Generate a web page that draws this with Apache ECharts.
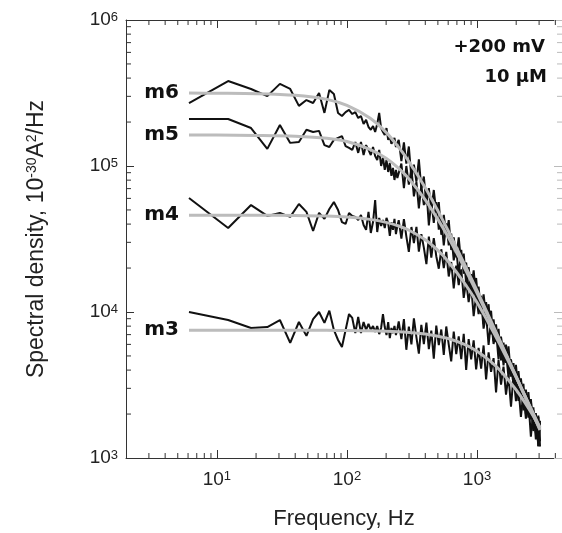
<!DOCTYPE html>
<html>
<head>
<meta charset="utf-8">
<title>Spectral density m3-m6</title>
<script src="https://cdn.jsdelivr.net/npm/echarts@6/dist/echarts.min.js"></script>
<style>
    body { margin: 0; background: #fff; }
    #main { width: 562px; height: 533px; }
</style>
</head>
<body>
<div id="main"></div>
<script type="text/javascript">
// measured spectra, Hz
var freq = [6.1, 12.2, 18.3, 24.4, 30.5, 36.6, 42.7, 48.8, 54.9, 61, 67.1, 73.2, 79.3, 85.4, 91.5, 97.6, 103.7, 109.8, 115.9, 122,
    128.1, 134.2, 140.3, 146.4, 152.5, 158.6, 164.7, 170.8, 176.9, 183, 189.1, 195.2, 201.3, 207.4, 213.5, 219.6, 225.7, 231.8, 237.9, 244,
    250, 262, 274, 286, 299, 313, 327, 342, 357, 373, 390, 408, 426, 445, 465, 486, 508, 531, 555, 580,
    606, 633, 662, 692, 723, 756, 790, 825, 862, 901, 942, 984, 1028, 1075, 1123, 1174, 1227, 1282, 1340, 1400,
    1463, 1529, 1598, 1670, 1745, 1824, 1906, 1992, 2081, 2175, 2273, 2375, 2482, 2594, 2711, 2833, 2960, 3050];

var m6 = [270000, 382000, 337000, 301000, 365000, 337000, 258000, 283000, 270000, 316000, 231000, 332000, 311000, 231000, 220000, 234000, 242000, 227000, 234000, 213000,
    220000, 194000, 207000, 185000, 177000, 188000, 171000, 194000, 231000, 182000, 171000, 163000, 182000, 151000, 160000, 142000, 148000, 156000, 135000, 144000,
    151000, 108000, 145000, 104000, 136000, 82400, 102000, 78000, 111000, 70300, 84700, 54600, 70500, 49800, 68500, 48300, 56500, 33800, 46300, 33300,
    42600, 26600, 32400, 23700, 32400, 21100, 25100, 15600, 20300, 14200, 19300, 12600, 14900, 9660, 13200, 9350, 11300, 7030, 8910, 6210,
    7670, 4660, 6170, 4490, 5820, 3610, 4460, 2890, 3930, 2730, 3220, 2000, 2830, 1840, 2220, 1340, 1910, 1300];

var m5 = [210000, 210000, 182000, 131000, 191000, 144000, 146000, 177000, 171000, 174000, 139000, 135000, 151000, 156000, 160000, 137000, 133000, 129000, 146000, 123000,
    146000, 119000, 139000, 129000, 119000, 135000, 117000, 110000, 129000, 100000, 114000, 94000, 110000, 91000, 105000, 85500, 96900, 80200, 94000, 82800,
    83800, 104000, 70600, 100000, 74500, 95900, 61900, 77600, 51200, 73500, 54000, 68700, 39200, 57100, 40700, 56600, 36700, 43300, 28600, 40400,
    28600, 34400, 22600, 27600, 17700, 26700, 18300, 21800, 14000, 18200, 12800, 17100, 11100, 12900, 8240, 11700, 8180, 10200, 6320, 8220,
    5470, 6780, 4310, 5980, 4070, 4710, 3130, 4350, 2820, 3410, 2120, 2940, 2090, 2530, 1570, 1980, 1200, 1750];

var m4 = [60400, 37600, 54000, 45500, 47700, 44800, 54900, 48500, 35900, 47700, 43400, 50700, 56600, 50000, 41300, 40100, 47700, 45500, 44800, 42700,
    46100, 39400, 36500, 48500, 34800, 41300, 58500, 35300, 44100, 38800, 42700, 37600, 44100, 40700, 33200, 41300, 36500, 43400, 34200, 38800,
    42600, 31800, 43300, 33000, 25800, 38200, 29700, 38300, 25900, 34100, 27600, 21300, 32800, 23600, 32100, 24100, 19800, 26900, 20000, 25800,
    17500, 22000, 14500, 20800, 15300, 19600, 12500, 16300, 11700, 15100, 9380, 13000, 9680, 12200, 7690, 9680, 5960, 8770, 6040, 7400,
    4740, 6650, 4560, 5310, 3560, 4740, 3170, 3940, 2460, 3510, 2340, 2770, 1890, 2460, 1530, 2030, 1210, 1800];

var m3 = [10000, 8810, 7770, 7890, 8810, 6140, 8540, 6860, 8950, 10000, 8420, 10200, 7530, 6430, 5760, 7530, 9680, 9100, 7170, 9250,
    7170, 8540, 7530, 8280, 7530, 8020, 7300, 8020, 7060, 7770, 9680, 7890, 6950, 8540, 6630, 7770, 7170, 8020, 6950, 7660,
    8610, 6520, 8950, 5510, 7940, 6010, 9060, 6700, 5180, 8170, 6030, 8470, 5560, 7460, 4790, 8070, 5930, 7590, 5080, 7960,
    5980, 4590, 7350, 5140, 6820, 4760, 7080, 4010, 6520, 4730, 6400, 4040, 5690, 4100, 5900, 3450, 5300, 3890, 4830, 2810,
    4690, 3180, 4220, 2720, 3670, 2250, 3640, 2450, 3050, 1910, 2850, 1860, 2470, 1400, 2120, 1480, 1950, 1200];

// fitted curves (grey)
var fitFreq = [6.1, 10, 20, 40, 70, 100, 150, 200, 250, 300, 400, 500, 600, 800, 1000, 1250, 1500, 2000, 2500, 3050];
var fit6 = [316000, 315000, 313000, 305000, 286000, 260000, 213000, 170000, 134000, 107000, 70900, 49300, 36000, 21300, 14000, 9090, 6370, 3610, 2320, 1560];
var fit5 = [163000, 163000, 162000, 160000, 155000, 147000, 130000, 113000, 96200, 81500, 58700, 43100, 32600, 20100, 13500, 8870, 6270, 3590, 2310, 1560];
var fit4 = [46000, 46000, 46000, 45800, 45400, 44700, 43100, 41100, 38800, 36300, 31200, 26400, 22200, 15800, 11600, 8150, 5980, 3570, 2350, 1610];
var fit3 = [7500, 7500, 7500, 7500, 7490, 7470, 7430, 7380, 7320, 7250, 7060, 6830, 6580, 6000, 5390, 4640, 3990, 2930, 2180, 1620];

var names = ['m6', 'm5', 'm4', 'm3'];

// minor tick values
var xMinor = [3, 4, 5, 6, 7, 8, 9, 20, 30, 40, 50, 60, 70, 80, 90, 200, 300, 400, 500, 600, 700, 800, 900, 2000, 3000, 4000];
var yMinor = [2000, 3000, 4000, 5000, 6000, 7000, 8000, 9000, 20000, 30000, 40000, 50000, 60000, 70000, 80000, 90000,
    200000, 300000, 400000, 500000, 600000, 700000, 800000, 900000];

var xMin = 2, xMax = 4500, yMin = 1000, yMax = 1000000;

function zip(xs, ys) {
    var out = [];
    for (var i = 0; i < xs.length; i++) out.push([xs[i], ys[i]]);
    return out;
}

function powLabel(v) {
    var e = Math.log10(v);
    if (Math.abs(e - Math.round(e)) > 1e-6) return '';
    return '{b|10}{s|' + Math.round(e) + '}';
}

var tickRich = {
    b: { fontSize: 19, fontFamily: 'Liberation Sans', color: '#222', verticalAlign: 'middle' },
    s: { fontSize: 13, fontFamily: 'Liberation Sans', color: '#222', verticalAlign: 'top' }
};

var myChart = echarts.init(document.getElementById('main'));

var dataSeries = [m6, m5, m4, m3].map(function (vals, i) {
    return {
        name: names[i] + ' data',
        type: 'line',
        data: zip(freq, vals),
        showSymbol: false,
        lineStyle: { color: '#111', width: 2 },
        z: 3
    };
});

var fitSeries = [fit6, fit5, fit4, fit3].map(function (vals, i) {
    return {
        name: names[i],
        type: 'line',
        data: zip(fitFreq, vals),
        smooth: 0.3,
        symbol: 'circle',
        symbolSize: 0,
        showSymbol: true,
        lineStyle: { color: '#bcbcbc', width: 3 },
        label: {
            show: true,
            position: 'left',
            distance: 10,
            formatter: function (p) { return p.dataIndex === 0 ? names[i] : ''; },
            fontFamily: 'DejaVu Sans',
            fontWeight: 'bold',
            fontSize: 20,
            color: '#111'
        },
        z: 4
    };
});

var tickSeries = [
    {
        type: 'custom',
        silent: true,
        clip: false,
        data: xMinor.map(function (v) { return [v, yMin]; }),
        renderItem: function (params, api) {
            var b = api.coord([api.value(0), yMin]);
            var t = api.coord([api.value(0), yMax]);
            return { type: 'group', children: [
                { type: 'line', shape: { x1: b[0], y1: b[1], x2: b[0], y2: b[1] - 5 }, style: { stroke: '#333', lineWidth: 1 } },
                { type: 'line', shape: { x1: t[0], y1: t[1], x2: t[0], y2: t[1] + 5 }, style: { stroke: '#333', lineWidth: 1 } }
            ]};
        },
        z: 2
    },
    {
        type: 'custom',
        silent: true,
        clip: false,
        data: yMinor.map(function (v) { return [xMin, v]; }),
        renderItem: function (params, api) {
            var l = api.coord([xMin, api.value(1)]);
            var r = api.coord([xMax, api.value(1)]);
            return { type: 'group', children: [
                { type: 'line', shape: { x1: l[0], y1: l[1], x2: l[0] + 5, y2: l[1] }, style: { stroke: '#333', lineWidth: 1 } },
                { type: 'line', shape: { x1: r[0], y1: r[1], x2: r[0] - 5, y2: r[1] }, style: { stroke: '#bbb', lineWidth: 1 } }
            ]};
        },
        z: 2
    }
];

var option = {
    animation: false,
    backgroundColor: '#fff',
    grid: { left: 126, right: 0, top: 20, bottom: 75, containLabel: false, outerBoundsMode: 'none' },
    xAxis: [
        {
            type: 'log', logBase: 10, min: xMin, max: xMax,
            name: 'Frequency, Hz',
            nameLocation: 'middle',
            nameGap: 50,
            nameTextStyle: { fontFamily: 'Liberation Sans', fontSize: 22, color: '#222' },
            axisLine: { lineStyle: { color: '#333', width: 1 } },
            axisTick: { inside: true, length: 8, lineStyle: { color: '#333' } },
            axisLabel: { margin: 12, formatter: powLabel, rich: tickRich },
            splitLine: { show: false }
        },
        {
            type: 'log', logBase: 10, min: xMin, max: xMax, position: 'top',
            axisLine: { lineStyle: { color: '#333', width: 1 } },
            axisTick: { inside: true, length: 8, lineStyle: { color: '#333' } },
            axisLabel: { show: false },
            splitLine: { show: false }
        }
    ],
    yAxis: [
        {
            type: 'log', logBase: 10, min: yMin, max: yMax,
            name: '{t|Spectral density, 10}{s|-30}{t|A}{s|2}{t|/Hz}',
            nameLocation: 'middle',
            nameRotate: 90,
            nameGap: 78,
            nameTextStyle: {
                rich: {
                    t: { fontFamily: 'Liberation Sans', fontSize: 23, color: '#222', verticalAlign: 'middle' },
                    s: { fontFamily: 'Liberation Sans', fontSize: 14, color: '#222', verticalAlign: 'top' }
                }
            },
            axisLine: { lineStyle: { color: '#333', width: 1 } },
            axisTick: { inside: true, length: 8, lineStyle: { color: '#333' } },
            axisLabel: { margin: 8, formatter: powLabel, rich: tickRich },
            splitLine: { show: false }
        },
        {
            type: 'log', logBase: 10, min: yMin, max: yMax, position: 'right',
            axisLine: { lineStyle: { color: '#ccc', width: 1 } },
            axisTick: { inside: true, length: 8, lineStyle: { color: '#bbb' } },
            axisLabel: { show: false },
            splitLine: { show: false }
        }
    ],
    graphic: [
        { type: 'text', right: 17, top: 38, style: { text: '+200 mV', fontFamily: 'DejaVu Sans', fontWeight: 'bold', fontSize: 18, fill: '#111' } },
        { type: 'text', right: 15, top: 68, style: { text: '10 \u03bcM', fontFamily: 'DejaVu Sans', fontWeight: 'bold', fontSize: 18, fill: '#111' } }
    ],
    series: tickSeries.concat(dataSeries, fitSeries)
};

myChart.setOption(option);
</script>
</body>
</html>
